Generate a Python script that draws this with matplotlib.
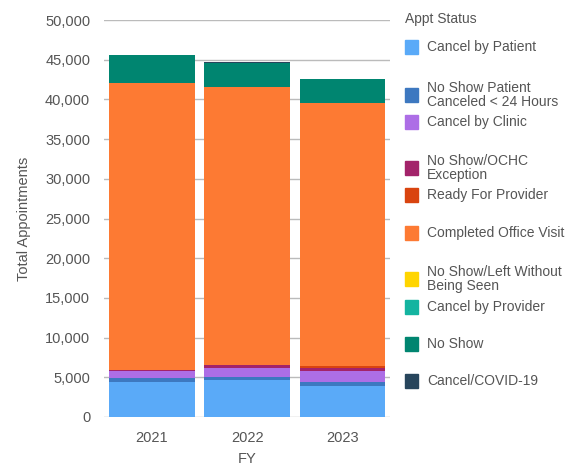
import numpy as np
import matplotlib
matplotlib.use("Agg")
import matplotlib.pyplot as plt
from matplotlib.patches import Rectangle
from matplotlib.ticker import FuncFormatter

plt.rcParams['font.family'] = ['Liberation Sans', 'DejaVu Sans']

years = ["2021", "2022", "2023"]
statuses = ["Cancel by Patient", "No Show Patient\nCanceled < 24 Hours", "Cancel by Clinic",
            "No Show/OCHC\nException", "Ready For Provider", "Completed Office Visit",
            "No Show/Left Without\nBeing Seen", "Cancel by Provider", "No Show", "Cancel/COVID-19"]
colors = ["#5AAAF8", "#3D78C0", "#AD6EE6", "#A3236A", "#D9440F", "#FD7A33",
          "#FFD500", "#14B4A0", "#008570", "#27455C"]

cancel_patient = [4370, 4670, 3870]
noshow_24h = [550, 380, 500]
cancel_clinic = [920, 1140, 1470]
noshow_ochc = [100, 340, 340]
ready_provider = [0, 50, 300]
completed = [36160, 35020, 33070]
left_without = [0, 0, 0]
cancel_provider = [0, 0, 0]
no_show = [3500, 3050, 3050]
cancel_covid = [50, 80, 0]

series = [cancel_patient, noshow_24h, cancel_clinic, noshow_ochc, ready_provider,
          completed, left_without, cancel_provider, no_show, cancel_covid]

fig = plt.figure(figsize=(5.7, 4.68), dpi=100)
ax = fig.add_axes([0.1825, 0.109, 0.502, 0.848])

x = np.arange(len(years))
bottom = np.zeros(len(years))
for vals, c in zip(series, colors):
    ax.bar(x, vals, bottom=bottom, width=0.9, color=c, edgecolor='none', zorder=2)
    bottom += np.array(vals)

ax.set_xlim(-0.5, 2.5)
ax.set_ylim(0, 50000)
ax.set_yticks(np.arange(0, 50001, 5000))
ax.yaxis.set_major_formatter(FuncFormatter(lambda v, p: f"{int(v):,}"))
ax.grid(axis='y', color='#bbbbbb', linewidth=1, zorder=1)
ax.set_axisbelow(True)
for s in ax.spines.values():
    s.set_visible(False)
ax.tick_params(length=0, colors='#555555', labelsize=10.5)
ax.tick_params(axis='y', pad=10)
ax.tick_params(axis='x', pad=10)
ax.set_xticks(x)
ax.set_xticklabels(years)
ax.set_xlabel("FY", color='#555555', fontsize=10.5, labelpad=5)
ax.set_ylabel("Total Appointments", color='#555555', fontsize=10.5, labelpad=10)

# legend drawn by hand to keep the uneven spacing
fig.text(405 / 570, 1 - 19 / 468, "Appt Status", color='#555555', fontsize=10, va='center')
legend_y = [47, 95, 122, 168, 195, 233, 279, 307, 344, 381]
for lab, c, yy in zip(statuses, colors, legend_y):
    fig.add_artist(Rectangle((405 / 570, 1 - (yy + 7) / 468), 13 / 570, 14 / 468,
                             transform=fig.transFigure, color=c))
    fig.text(427 / 570, 1 - yy / 468, lab, color='#555555', fontsize=10, va='center',
             linespacing=0.95)

fig.savefig("out.png", dpi=100)
